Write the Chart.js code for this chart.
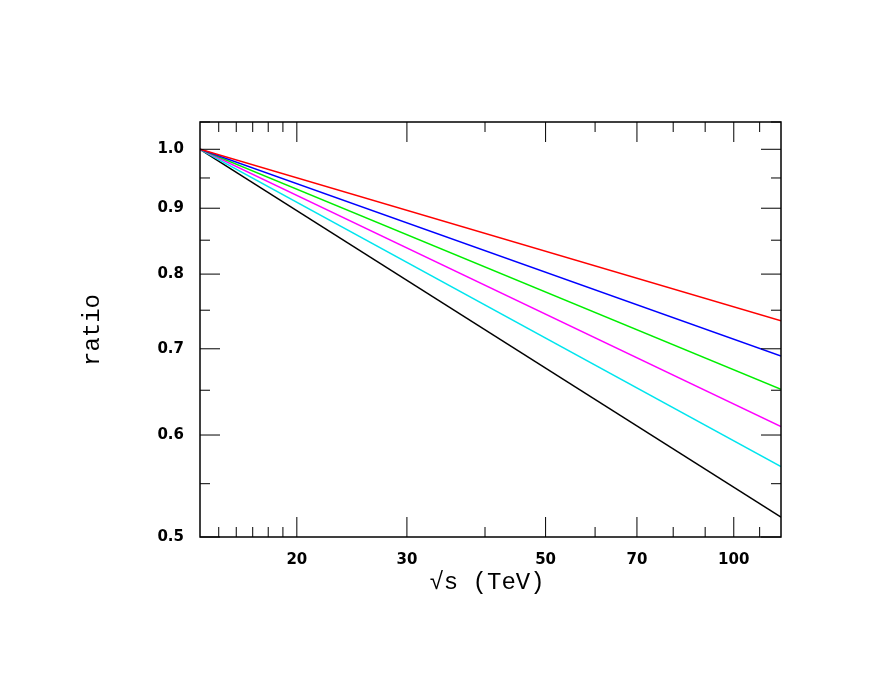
<!DOCTYPE html>
<html>
<head>
<meta charset="utf-8">
<script src="https://cdn.jsdelivr.net/npm/chart.js@4"></script>
<style>
  body { margin: 0; background: #fff; }
  #wrap { width: 896px; height: 692px; }
</style>
</head>
<body>
<div id="wrap"><canvas id="grafica" width="896" height="692"></canvas></div>
<script>
// energies (TeV) at the two ends of every line
const energias = [14, 119];
const rojo = [1.0, 0.736];
const azul = [1.0, 0.691];
const verde = [1.0, 0.651];
const magenta = [1.0, 0.609];
const cian = [1.0, 0.567];
const negro = [1.0, 0.518];

const xEtiquetas = [20, 30, 50, 70, 100];
const xMenores = [15, 16, 17, 18, 19, 40, 60, 80, 90, 110];
const yEtiquetas = [0.5, 0.6, 0.7, 0.8, 0.9, 1.0];
const yMenores = [0.55, 0.65, 0.75, 0.85, 0.95, 1.05];

const series = [
  { datos: rojo, color: '#ff0000' },
  { datos: azul, color: '#0000ff' },
  { datos: verde, color: '#00ee00' },
  { datos: magenta, color: '#ff00ff' },
  { datos: cian, color: '#00e5ee' },
  { datos: negro, color: '#000000' }
];

// frame with inward ticks on all four sides, plus axis titles
const marco = {
  id: 'marco',
  afterDraw(c) {
    const { ctx, chartArea: a, scales } = c;
    ctx.save();
    ctx.strokeStyle = '#000';
    ctx.lineWidth = 1.5;
    ctx.strokeRect(a.left, a.top, a.right - a.left, a.bottom - a.top);
    ctx.lineWidth = 1;
    const tic = (v, len, eje) => {
      ctx.beginPath();
      if (eje === 'x') {
        const p = scales.x.getPixelForValue(v);
        ctx.moveTo(p, a.bottom); ctx.lineTo(p, a.bottom - len);
        ctx.moveTo(p, a.top); ctx.lineTo(p, a.top + len);
      } else {
        const p = scales.y.getPixelForValue(v);
        ctx.moveTo(a.left, p); ctx.lineTo(a.left + len, p);
        ctx.moveTo(a.right, p); ctx.lineTo(a.right - len, p);
      }
      ctx.stroke();
    };
    xEtiquetas.forEach(v => tic(v, 20, 'x'));
    xMenores.forEach(v => tic(v, 10, 'x'));
    yEtiquetas.forEach(v => tic(v, 20, 'y'));
    yMenores.forEach(v => tic(v, 10, 'y'));

    ctx.fillStyle = '#000';
    ctx.font = '24px "Liberation Mono"';
    ctx.textAlign = 'center';
    ctx.textBaseline = 'middle';
    ctx.fillText('√s (TeV)', 487, 583);
    ctx.translate(93, 330);
    ctx.rotate(-Math.PI / 2);
    ctx.fillText('ratio', 0, 0);
    ctx.restore();
  }
};

new Chart(document.getElementById('grafica').getContext('2d'), {
  type: 'line',
  data: {
    datasets: series.map(s => ({
      data: energias.map((x, i) => ({ x, y: s.datos[i] })),
      borderColor: s.color,
      borderWidth: 1.5,
      pointRadius: 0,
      tension: 0
    }))
  },
  options: {
    responsive: false,
    animation: false,
    layout: { padding: { top: 122, right: 115, left: 0, bottom: 0 } },
    plugins: { legend: { display: false }, tooltip: { enabled: false } },
    scales: {
      x: {
        type: 'logarithmic', min: 14, max: 119,
        afterBuildTicks: s => { s.ticks = xEtiquetas.map(v => ({ value: v })); },
        afterFit: s => { s.height = 692 - 537; },
        grid: { display: false }, border: { display: false },
        ticks: {
          color: '#000', font: { family: 'DejaVu Sans', size: 15, weight: 'bold' },
          padding: 6, maxRotation: 0, autoSkip: false,
          callback: v => String(v)
        }
      },
      y: {
        type: 'logarithmic', min: 0.5, max: 1.05,
        afterBuildTicks: s => { s.ticks = yEtiquetas.map(v => ({ value: v })); },
        afterFit: s => { s.width = 200; },
        grid: { display: false }, border: { display: false },
        ticks: {
          color: '#000', font: { family: 'DejaVu Sans', size: 15, weight: 'bold' },
          padding: 8, autoSkip: false,
          callback: v => Number(v).toFixed(1)
        }
      }
    }
  },
  plugins: [marco]
});
</script>
</body>
</html>
